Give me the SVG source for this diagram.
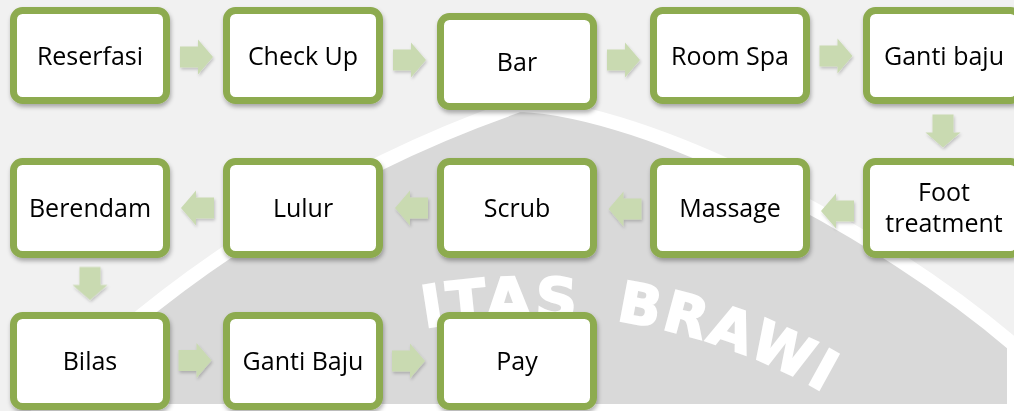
<svg xmlns="http://www.w3.org/2000/svg" width="1014" height="411" viewBox="0 0 1014 411">
<style>
.box{fill:#ffffff;stroke:#8dab50;stroke-width:7}
.lbl{font-family:"Open Sans","Noto Sans",sans-serif;font-size:25px;fill:#000;text-anchor:middle}
.arr{fill:#c9dab1}
.wm{font-family:"DejaVu Sans","Liberation Sans",sans-serif;font-weight:bold;font-size:58px;fill:#ffffff;stroke:#ffffff;stroke-width:2}
</style>
<defs>
<filter id="sh" x="-10%" y="-10%" width="125%" height="130%">
<feDropShadow dx="1" dy="3" stdDeviation="2" flood-color="#000" flood-opacity="0.3"/>
</filter>
<filter id="ash" x="-20%" y="-20%" width="150%" height="150%">
<feDropShadow dx="1" dy="2" stdDeviation="1.5" flood-color="#000" flood-opacity="0.2"/>
</filter>
<path id="ar" d="M-16.5,-10.5 H1.5 V-17.5 L16.5,0 L1.5,17.5 V10.5 H-16.5 Z"/>
<path id="wmarc" d="M-68,915 A596,596 0 0 1 1124,915"/>
<path id="wmarc2" d="M-68,910 A596,596 0 0 1 1124,910"/>
</defs>

<g id="background">
<rect x="0" y="0" width="1014" height="411" fill="#f1f1f1"/>
<path d="M40,411 C150,290 330,170 520,105 C650,110 880,230 1014,345 L1014,411 Z" fill="#d9d9d9" stroke="#ffffff" stroke-width="14"/>
<text class="wm"><textPath href="#wmarc" startOffset="832" letter-spacing="3">ITAS</textPath></text>
<text class="wm" style="font-size:56px"><textPath href="#wmarc2" startOffset="1024" letter-spacing="3">BRAWI</textPath></text>
</g>

<g id="connectors" filter="url(#ash)">
<use href="#ar" class="arr" transform="translate(196.5,57)"/>
<use href="#ar" class="arr" transform="translate(409.5,60)"/>
<use href="#ar" class="arr" transform="translate(623.5,60)"/>
<use href="#ar" class="arr" transform="translate(836,56)"/>
<use href="#ar" class="arr" transform="translate(943,131) rotate(90)"/>
<use href="#ar" class="arr" transform="translate(837.5,211) rotate(180)"/>
<use href="#ar" class="arr" transform="translate(625,209) rotate(180)"/>
<use href="#ar" class="arr" transform="translate(411.5,208) rotate(180)"/>
<use href="#ar" class="arr" transform="translate(197.5,208) rotate(180)"/>
<use href="#ar" class="arr" transform="translate(90,283.5) rotate(90)"/>
<use href="#ar" class="arr" transform="translate(195,360.5)"/>
<use href="#ar" class="arr" transform="translate(408.5,361)"/>
</g>

<g id="n-reserfasi"><rect class="box" filter="url(#sh)" x="13.5" y="10.5" width="153" height="90" rx="9"/><text class="lbl" x="90" y="64.5">Reserfasi</text></g>
<g id="n-checkup"><rect class="box" filter="url(#sh)" x="226.5" y="10.5" width="153" height="90" rx="9"/><text class="lbl" x="303" y="64.5">Check Up</text></g>
<g id="n-bar"><rect class="box" filter="url(#sh)" x="440.5" y="16.5" width="153" height="90" rx="9"/><text class="lbl" x="517" y="70.5">Bar</text></g>
<g id="n-roomspa"><rect class="box" filter="url(#sh)" x="653.5" y="10.5" width="153" height="90" rx="9"/><text class="lbl" x="730" y="64.5">Room Spa</text></g>
<g id="n-gantibaju1"><rect class="box" filter="url(#sh)" x="866.5" y="10.5" width="153" height="90" rx="9"/><text class="lbl" x="944" y="64.5">Ganti baju</text></g>

<g id="n-berendam"><rect class="box" filter="url(#sh)" x="13.5" y="161.5" width="153" height="93" rx="9"/><text class="lbl" x="90" y="217">Berendam</text></g>
<g id="n-lulur"><rect class="box" filter="url(#sh)" x="226.5" y="161.5" width="153" height="93" rx="9"/><text class="lbl" x="303" y="217">Lulur</text></g>
<g id="n-scrub"><rect class="box" filter="url(#sh)" x="440.5" y="161.5" width="153" height="93" rx="9"/><text class="lbl" x="517" y="217">Scrub</text></g>
<g id="n-massage"><rect class="box" filter="url(#sh)" x="653.5" y="161.5" width="153" height="93" rx="9"/><text class="lbl" x="730" y="217">Massage</text></g>
<g id="n-foot"><rect class="box" filter="url(#sh)" x="866.5" y="161.5" width="153" height="93" rx="9"/><text class="lbl" x="944" y="201">Foot</text><text class="lbl" x="944" y="232">treatment</text></g>

<g id="n-bilas"><rect class="box" filter="url(#sh)" x="13.5" y="315.5" width="153" height="91" rx="9"/><text class="lbl" x="90" y="370">Bilas</text></g>
<g id="n-gantibaju2"><rect class="box" filter="url(#sh)" x="226.5" y="315.5" width="153" height="91" rx="9"/><text class="lbl" x="303" y="370">Ganti Baju</text></g>
<g id="n-pay"><rect class="box" filter="url(#sh)" x="440.5" y="315.5" width="153" height="91" rx="9"/><text class="lbl" x="517" y="370">Pay</text></g>
</svg>
